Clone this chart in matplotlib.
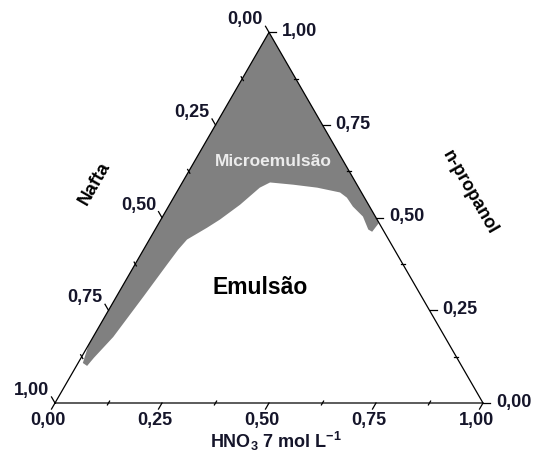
import numpy as np
import matplotlib
matplotlib.use("Agg")
import matplotlib.pyplot as plt
from matplotlib.patches import Polygon

plt.rcParams['font.family'] = ['Liberation Sans', 'DejaVu Sans']
plt.rcParams['mathtext.fontset'] = 'custom'
plt.rcParams['mathtext.rm'] = 'Liberation Sans:bold'
plt.rcParams['mathtext.it'] = 'Liberation Sans:bold'
plt.rcParams['mathtext.bf'] = 'Liberation Sans:bold'
plt.rcParams['mathtext.default'] = 'rm'

# ---- data (fractions) ----
# lower boundary of the microemulsion region, from Nafta side to n-propanol side
boundary_hno3 = [0.000, 0.011, 0.025, 0.030, 0.047, 0.063, 0.075, 0.081, 0.088, 0.119,
                 0.138, 0.165, 0.188, 0.205, 0.262, 0.322, 0.382, 0.405, 0.431, 0.468,
                 0.498, 0.510, 0.514]
boundary_propanol = [0.157, 0.108, 0.100, 0.122, 0.178, 0.286, 0.373, 0.414, 0.441, 0.473,
                     0.495, 0.535, 0.581, 0.595, 0.589, 0.581, 0.568, 0.554, 0.530, 0.503,
                     0.468, 0.462, 0.486]

major_ticks = [0.0, 0.25, 0.5, 0.75, 1.0]
minor_ticks = [0.125, 0.375, 0.625, 0.875]
tick_labels = ['0,00', '0,25', '0,50', '0,75', '1,00']

S3 = np.sqrt(3) / 2
PX = 1 / 428.0

def cart(h, p):
    h = np.asarray(h, float); p = np.asarray(p, float)
    return h + 0.5 * p, p * S3

fig = plt.figure(figsize=(5.33, 4.59), dpi=100)
ax = fig.add_axes([0, 0, 1, 1])
ax.set_xlim(-55 * PX, (533 - 55) * PX)
ax.set_ylim(-(459 - 403) * PX, 403 * PX)
ax.axis('off')

# grey microemulsion region: top vertex -> down the Nafta side -> boundary -> up n-propanol side
hs = [0.0] + boundary_hno3 + [0.0]
ps = [1.0] + boundary_propanol + [1.0]
xs, ys = cart(hs, ps)
ax.add_patch(Polygon(np.column_stack([xs, ys]), closed=True, facecolor='#808080',
                     edgecolor='none', zorder=1))

# triangle
tx, ty = cart([0, 1, 0, 0], [0, 0, 1, 0])
ax.plot(tx, ty, color='black', lw=0.9, zorder=3)

L = 7 * PX
l = 2.2 * PX
# directions
d_bottom = np.array([-0.5, -S3])
d_left = np.array([-0.5, S3])
d_right = np.array([1.0, 0.0])

tcol = '#15152a'
fs = 13
for v, lab in zip(major_ticks, tick_labels):
    # bottom axis: HNO3 = v
    x0, y0 = cart(v, 0)
    ax.plot([x0, x0 + L * d_bottom[0]], [y0, y0 + L * d_bottom[1]], color='black', lw=0.9, zorder=3)
    ax.text(x0 - 7 * PX, y0 - 17 * PX, lab, ha='center', va='center', fontsize=fs,
            fontweight='bold', color=tcol)
    # left axis: Nafta = v  (propanol = 1-v, hno3 = 0)
    x0, y0 = cart(0, 1 - v)
    ax.plot([x0, x0 + L * d_left[0]], [y0, y0 + L * d_left[1]], color='black', lw=0.9, zorder=3)
    ax.text(x0 - 6 * PX, y0 + 12.5 * PX, lab, ha='right', va='center', fontsize=fs,
            fontweight='bold', color=tcol)
    # right axis: n-propanol = v
    x0, y0 = cart(1 - v, v)
    ax.plot([x0, x0 + L * d_right[0]], [y0, y0 + L * d_right[1]], color='black', lw=0.9, zorder=3)
    ax.text(x0 + 13 * PX, y0 + 1 * PX, lab, ha='left', va='center', fontsize=fs,
            fontweight='bold', color=tcol)

for v in minor_ticks:
    x0, y0 = cart(v, 0)
    ax.plot([x0 - l * d_bottom[0], x0 + l * d_bottom[0]], [y0 - l * d_bottom[1], y0 + l * d_bottom[1]],
            color='black', lw=0.9, zorder=3)
    x0, y0 = cart(0, 1 - v)
    ax.plot([x0 - l * d_left[0], x0 + l * d_left[0]], [y0 - l * d_left[1], y0 + l * d_left[1]],
            color='black', lw=0.9, zorder=3)
    x0, y0 = cart(1 - v, v)
    ax.plot([x0 - l, x0 + l], [y0, y0], color='black', lw=0.9, zorder=3)

def pix(x, y):
    return (x - 55) * PX, (403 - y) * PX

# axis titles
ax.text(*pix(95, 183), 'Nafta', rotation=60, ha='center', va='center', fontsize=13.5,
        fontweight='bold', color='black')
ax.text(*pix(470, 193), 'n-propanol', rotation=-60, ha='center', va='center', fontsize=13,
        fontweight='bold', color='black')
ax.text(*pix(276, 441), r'HNO$_3$ 7 mol L$^{-1}$', ha='center', va='center', fontsize=13,
        fontweight='bold', color=tcol)

# region labels
ax.text(*pix(273, 162), 'Microemulsão', ha='center', va='center', fontsize=12.5,
        fontweight='bold', color='#ececec', zorder=4)
ax.text(*pix(260, 288), 'Emulsão', ha='center', va='center', fontsize=16.5,
        fontweight='bold', color='black', zorder=4)

fig.savefig('out.png', dpi=100)
